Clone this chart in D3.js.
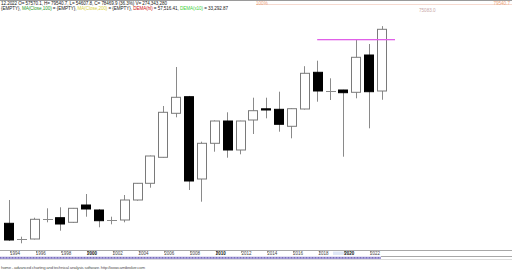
<!DOCTYPE html>
<html>
<head>
<meta charset="utf-8">
<script src="https://cdn.jsdelivr.net/npm/d3@7"></script>
<style>
body { margin: 0; background: #fff; }
svg { display: block; font-family: "Liberation Sans", Arial, sans-serif; }
</style>
</head>
<body>
<svg id="chart" width="512" height="270"></svg>
<script>
// yearly candles
const years = d3.range(1993, 2023)
const opens  = [12762, 7300, 7445, 14150, 14659, 13101, 18960, 17267, 13800, 13880, 20654, 26310, 35117, 50019, 55642, 27767, 39859, 47411, 37589, 47750, 51543, 51374, 45616, 51476, 63906, 57700, 57911, 57132, 69765, 57570.1]
const highs  = [20654, 8224, 14659, 17842, 18181, 17950, 22686, 17606, 14996, 22347, 26400, 35700, 52492, 65701, 55900, 40401, 47600, 50358, 47500, 55303, 55303, 57335, 51700, 65972, 67835, 61874, 58000, 75083, 73491, 79540.7]
const lows   = [6767, 5989, 7300, 13101, 10256, 12900, 14996, 11409, 12424, 13101, 20417, 24819, 35000, 48664, 24041, 20078, 37014, 34981, 36133, 43008, 48326, 43788, 41552, 51300, 53948, 54524, 35320, 55100, 44939, 54607.8]
const closes = [7106, 7400, 14117, 14300, 12525, 17842, 17606, 13643, 13950, 20654, 26310, 35557, 50358, 55439, 27089, 39859, 47411, 37589, 47411, 50900, 51137, 46294, 51577, 63567, 57572, 57450, 56997, 68987, 57335, 78469.9]

const tickYears = d3.range(1994, 2023, 2)
const boldYears = [2000, 2010, 2020]
const hLineLevel = 75083
const hLineFrom = 2017

const header1 = "12.2022 O= 57570.1, H= 79540.7, L= 54607.8, C= 78469.9 (36.3%) V= 274,343,280"
const header2 = [
  ["{EMPTY}, ", "#222"], ["MA(Close,100)", "#2a9a2a"], [" = {EMPTY}, ", "#222"],
  ["MA(Close,200)", "#d8d040"], [" = {EMPTY}, ", "#222"], ["DEMA(hl)", "#d01010"],
  [" = 57,516.41, ", "#222"], ["DEMA(x10)", "#40d040"], [" = 33,292.87", "#222"]
]
const footer = "home - advanced charting and technical analysis software. http://www.amibroker.com"

const candles = years.map((y, i) => ({year: y, o: opens[i], h: highs[i], l: lows[i], c: closes[i]}))

let svg = d3.select('#chart')

let x = d3.scalePoint().domain(years).range([8.5, 381.5])
let step = x.step()
let bodyW = 9
let y = d3.scaleLinear().domain([3719, 83313]).range([250, 15])

// top strip
svg.append('rect').attr('x', 0).attr('y', 0).attr('width', 512).attr('height', 1).attr('fill', '#9a9a9a')
svg.append('line').attr('x1', 256).attr('x2', 512).attr('y1', 4.5).attr('y2', 4.5)
  .attr('stroke', '#f4d0c4').attr('stroke-width', 0.8)

svg.append('text').attr('x', 1).attr('y', 5.2).attr('font-size', 4.6).attr('fill', '#222')
  .attr('textLength', 166).text(header1)

let h2 = svg.append('text').attr('x', 1).attr('y', 10).attr('font-size', 4.6).attr('textLength', 227)
h2.selectAll('tspan').data(header2).enter().append('tspan')
  .attr('fill', d => d[1]).text(d => d[0])

svg.append('text').attr('x', 256).attr('y', 5).attr('font-size', 4.6).attr('fill', '#eba57c').text('100%')
svg.append('text').attr('x', 510).attr('y', 5).attr('text-anchor', 'end').attr('font-size', 4.6)
  .attr('fill', '#eba57c').text('79540.7')
svg.append('text').attr('x', 419).attr('y', 11.5).attr('font-size', 4.6).attr('fill', '#c9a8a8').text('75083.0')

// wicks
svg.append('g').selectAll('line').data(candles).enter().append('line')
  .attr('x1', d => Math.round(x(d.year)) + 0.5)
  .attr('x2', d => Math.round(x(d.year)) + 0.5)
  .attr('y1', d => y(d.h))
  .attr('y2', d => y(d.l))
  .attr('stroke', '#8a8a8a').attr('stroke-width', 1)

// bodies
let bodies = candles.filter(d => Math.abs(y(d.o) - y(d.c)) >= 0.8)
svg.append('g').selectAll('rect').data(bodies).enter().append('rect')
  .attr('x', d => Math.round(x(d.year) - bodyW / 2) + 0.5)
  .attr('y', d => y(Math.max(d.o, d.c)))
  .attr('width', bodyW)
  .attr('height', d => Math.abs(y(d.o) - y(d.c)))
  .attr('fill', d => d.c >= d.o ? '#fff' : '#000')
  .attr('stroke', d => d.c >= d.o ? '#7a7a7a' : '#000')
  .attr('stroke-width', 1)

// dojis
let dojis = candles.filter(d => Math.abs(y(d.o) - y(d.c)) < 0.8)
svg.append('g').selectAll('line').data(dojis).enter().append('line')
  .attr('x1', d => Math.round(x(d.year) - bodyW / 2))
  .attr('x2', d => Math.round(x(d.year) + bodyW / 2) + 1)
  .attr('y1', d => Math.round(y((d.o + d.c) / 2)) + 0.5)
  .attr('y2', d => Math.round(y((d.o + d.c) / 2)) + 0.5)
  .attr('stroke', '#8a8a8a').attr('stroke-width', 1)

// horizontal study line
svg.append('rect')
  .attr('x', x(hLineFrom)).attr('width', x(2022) + 13.5 - x(hLineFrom))
  .attr('y', Math.round(y(hLineLevel))).attr('height', 1.3)
  .attr('fill', '#e060e8')

// x axis
svg.append('line').attr('x1', 0).attr('x2', 512).attr('y1', 250.5).attr('y2', 250.5)
  .attr('stroke', '#a8a8a8')
svg.append('line').attr('x1', 381).attr('x2', 512).attr('y1', 256.5).attr('y2', 256.5)
  .attr('stroke', '#a8a8a8')
svg.append('rect').attr('x', 333).attr('y', 251.5).attr('width', 13).attr('height', 3.5).attr('fill', '#dfe7f6')

svg.append('g').selectAll('line').data(tickYears).enter().append('line')
  .attr('x1', d => Math.round(x(d) - step / 2 - 5) + 0.5)
  .attr('x2', d => Math.round(x(d) - step / 2 - 5) + 0.5)
  .attr('y1', 251).attr('y2', 253)
  .attr('stroke', '#666').attr('stroke-width', 0.6)

svg.append('g').selectAll('text').data(tickYears).enter().append('text')
  .attr('x', d => x(d) - step / 2)
  .attr('y', 255.3)
  .attr('text-anchor', 'middle')
  .attr('font-size', 4.5)
  .attr('font-weight', d => boldYears.includes(d) ? 'bold' : 'normal')
  .attr('fill', d => boldYears.includes(d) ? '#111' : '#444')
  .text(d => d)

// date strip
svg.append('rect').attr('x', 0).attr('y', 256.7).attr('width', 381).attr('height', 2.4).attr('fill', '#a79fd8')
svg.append('g').selectAll('rect').data(d3.range(0, 381, 3)).enter().append('rect')
  .attr('x', d => d).attr('y', 257.3).attr('width', 1).attr('height', 1).attr('fill', '#6a5fb0')
svg.append('line').attr('x1', 0).attr('x2', 512).attr('y1', 259.5).attr('y2', 259.5)
  .attr('stroke', '#c8c8c8').attr('stroke-width', 0.6)

svg.append('text').attr('x', 1).attr('y', 269).attr('font-size', 4.3).attr('fill', '#555')
  .attr('textLength', 144).text(footer)
</script>
</body>
</html>
